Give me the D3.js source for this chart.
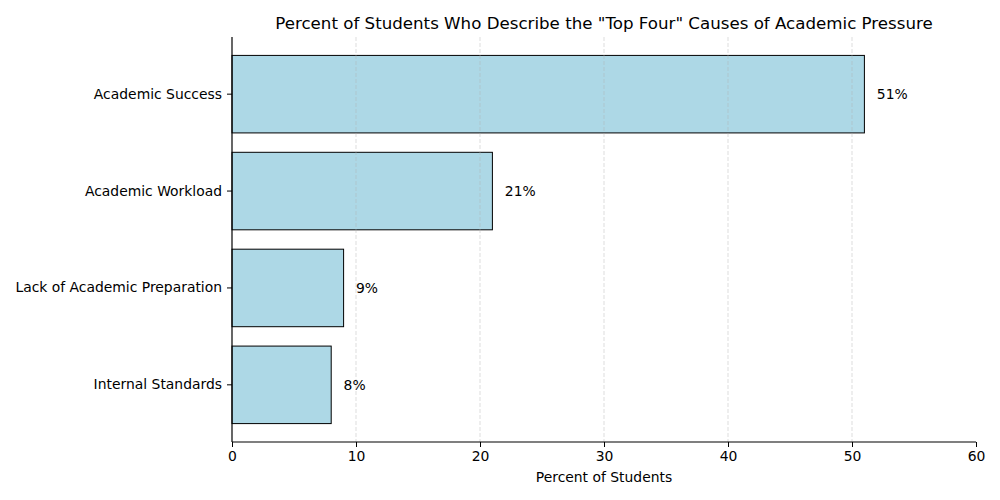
<!DOCTYPE html>
<html>
<head>
<meta charset="utf-8">
<script src="https://cdn.jsdelivr.net/npm/d3@7"></script>
<style>
body { margin: 0; background: #fff; }
svg { font-family: "DejaVu Sans", sans-serif; }
</style>
</head>
<body>
<svg id="chart" width="1000" height="500"></svg>
<script>
const categories = ["Academic Success", "Academic Workload", "Lack of Academic Preparation", "Internal Standards"];
const values = [51, 21, 9, 8];
const xTicks = [0, 10, 20, 30, 40, 50, 60];
const titleText = 'Percent of Students Who Describe the "Top Four" Causes of Academic Pressure';
const xLabel = "Percent of Students";

(function () {
const svg = d3.select("#chart");
const pL = 232, pR = 976, pT = 37, pB = 442;
const fs = 13.9;

const x = d3.scaleLinear().domain([0, 60]).range([pL, pR]);
const y = d3.scaleBand().domain(categories).range([pT, pB]).paddingInner(0.2).paddingOuter(0.19);
const gridTicks = xTicks.filter(t => t > 0 && t < 60);

// bars
svg.append("g").selectAll("rect").data(values).join("rect")
  .attr("x", x(0))
  .attr("y", (d, i) => y(categories[i]))
  .attr("width", d => x(d) - x(0))
  .attr("height", y.bandwidth())
  .attr("fill", "#add8e6")
  .attr("stroke", "#000").attr("stroke-width", 1);

// grid over bars
svg.append("g").selectAll("line").data(gridTicks).join("line")
  .attr("x1", d => x(d)).attr("x2", d => x(d))
  .attr("y1", pT).attr("y2", pB)
  .attr("stroke", "#b0b0b0").attr("stroke-opacity", 0.55)
  .attr("stroke-dasharray", "4,2").attr("stroke-width", 0.8);

// value labels
svg.append("g").selectAll("text").data(values).join("text")
  .attr("x", d => x(d + 1))
  .attr("y", (d, i) => y(categories[i]) + y.bandwidth() / 2)
  .attr("dy", "0.35em")
  .attr("font-size", fs)
  .attr("fill", "#000")
  .text(d => d + "%");

// axes
const xAxis = d3.axisBottom(x).tickValues(xTicks).tickSize(5).tickPadding(4);
const gx = svg.append("g").attr("transform", `translate(0,${pB})`).call(xAxis);
gx.select(".domain").attr("stroke-width", 1.2).attr("d", `M${pL},0H${pR}`);
gx.selectAll("text").attr("font-size", fs).attr("font-family", "DejaVu Sans").attr("fill", "#000");

const yAxis = d3.axisLeft(y).tickSize(5).tickPadding(5);
const gy = svg.append("g").attr("transform", `translate(${pL},0)`).call(yAxis);
gy.select(".domain").attr("stroke-width", 1.2).attr("d", `M0,${pT}V${pB}`);
gy.selectAll("text").attr("font-size", fs).attr("font-family", "DejaVu Sans").attr("fill", "#000");

// title and x label
svg.append("text").attr("x", (pL + pR) / 2).attr("y", 29)
  .attr("text-anchor", "middle").attr("font-size", 16.67).attr("fill", "#000").text(titleText);
svg.append("text").attr("x", (pL + pR) / 2).attr("y", 482)
  .attr("text-anchor", "middle").attr("font-size", fs).attr("fill", "#000").text(xLabel);
})();
</script>
</body>
</html>
